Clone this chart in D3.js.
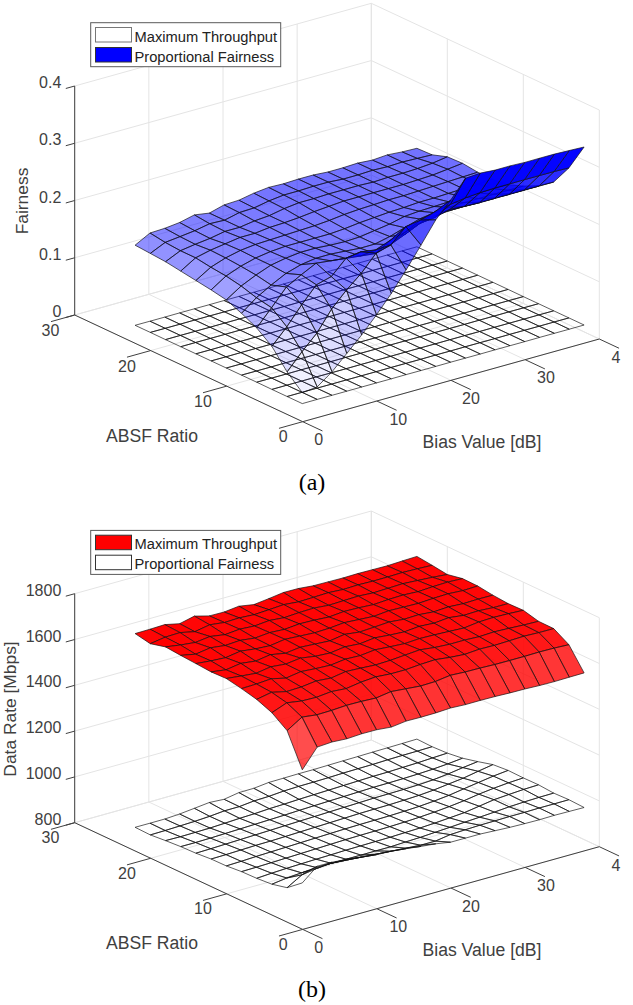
<!DOCTYPE html>
<html>
<head>
<meta charset="utf-8">
<title>Fairness and data rate surfaces</title>
<script src="https://cdn.jsdelivr.net/npm/d3@7"></script>
<style>
  html, body { margin: 0; padding: 0; background: #fff; }
  svg { display: block; }
  text { font-family: "Liberation Sans", Arial, sans-serif; fill: #404040; }
</style>
</head>
<body>
<svg id="figure" width="633" height="1005"></svg>
<script>
// grid of the simulation, one row per ABSF ratio, one column per bias value
var bias_values = [2, 4, 6, 8, 10, 12, 14, 16, 18, 20, 22, 24, 26, 28, 30, 32, 34, 36, 38, 40];
var absf_values = [2, 4, 6, 8, 10, 12, 14, 16, 18, 20, 22, 24];

var fairness_ticks = [0, 0.1, 0.2, 0.3, 0.4];
var rate_ticks = [800, 1000, 1200, 1400, 1600, 1800];
var bias_ticks = [0, 10, 20, 30, 40];
var absf_ticks = [0, 10, 20, 30];
// the last bias label is cut by the edge of the page, only its first digit shows
var bias_tick_labels = ['0', '10', '20', '30', '4'];

var fairness_pf = [
  [.031,.034,.053,.078,.103,.131,.161,.195,.231,.268,.295,.326,.328,.326,.326,.325,.325,.325,.324,.323],
  [.055,.083,.108,.143,.169,.191,.219,.226,.251,.255,.263,.268,.272,.274,.275,.275,.275,.275,.275,.274],
  [.087,.114,.145,.173,.180,.205,.209,.205,.215,.222,.230,.233,.240,.238,.237,.237,.237,.237,.237,.237],
  [.107,.135,.164,.178,.191,.188,.185,.182,.179,.187,.198,.210,.216,.218,.218,.218,.218,.218,.218,.218],
  [.120,.140,.155,.168,.176,.180,.180,.178,.176,.176,.182,.190,.198,.202,.204,.205,.205,.205,.205,.205],
  [.131,.148,.160,.170,.175,.178,.178,.176,.175,.176,.180,.184,.190,.192,.193,.194,.195,.195,.195,.195],
  [.136,.153,.163,.170,.174,.176,.176,.176,.176,.178,.181,.183,.185,.186,.188,.188,.189,.190,.191,.192],
  [.140,.156,.165,.171,.174,.175,.176,.177,.178,.180,.183,.185,.186,.187,.187,.188,.189,.190,.191,.192],
  [.144,.160,.166,.170,.174,.174,.177,.178,.180,.183,.185,.187,.187,.187,.187,.187,.188,.189,.192,.195],
  [.148,.160,.164,.167,.172,.172,.176,.178,.183,.186,.186,.187,.187,.187,.186,.187,.187,.188,.190,.194],
  [.150,.162,.165,.168,.173,.172,.178,.179,.184,.187,.187,.188,.188,.186,.186,.187,.186,.187,.186,.185],
  [.152,.166,.167,.170,.176,.172,.179,.180,.185,.188,.187,.188,.188,.186,.186,.187,.185,.187,.185,.184]
];

var fairness_mt = [
  [.012,.012,.012,.012,.012,.012,.012,.012,.012,.012,.012,.012,.012,.012,.012,.012,.012,.012,.012,.012],
  [.012,.012,.012,.012,.012,.012,.012,.012,.012,.012,.012,.012,.012,.012,.012,.012,.012,.012,.012,.012],
  [.012,.012,.012,.012,.012,.012,.012,.012,.012,.012,.012,.012,.012,.012,.012,.012,.012,.012,.012,.012],
  [.012,.012,.012,.012,.012,.012,.012,.012,.012,.012,.012,.012,.012,.012,.012,.012,.012,.012,.012,.012],
  [.012,.012,.012,.012,.012,.012,.012,.012,.012,.012,.012,.012,.012,.012,.012,.012,.012,.012,.012,.012],
  [.012,.012,.012,.012,.012,.012,.012,.012,.012,.012,.012,.012,.012,.012,.012,.012,.012,.012,.012,.012],
  [.012,.012,.012,.012,.012,.012,.012,.012,.012,.012,.012,.012,.012,.012,.012,.012,.012,.012,.012,.012],
  [.012,.012,.012,.012,.012,.012,.012,.012,.012,.012,.012,.012,.012,.012,.012,.012,.012,.012,.012,.012],
  [.012,.012,.012,.012,.012,.012,.012,.012,.012,.012,.012,.012,.012,.012,.012,.012,.012,.012,.012,.012],
  [.012,.012,.012,.012,.012,.012,.012,.012,.012,.012,.012,.012,.012,.012,.012,.012,.012,.012,.012,.012],
  [.012,.012,.012,.012,.012,.012,.012,.012,.012,.012,.012,.012,.012,.012,.012,.012,.012,.012,.012,.012],
  [.012,.012,.012,.012,.012,.012,.012,.012,.012,.012,.012,.012,.012,.012,.012,.012,.012,.012,.012,.012]
];

var rate_mt = [
  [1448,1529,1533,1529,1533,1532,1526,1534,1533,1534,1537,1534,1534,1533,1531,1530,1527,1526,1527,1528],
  [1588,1629,1621,1622,1626,1625,1622,1632,1626,1620,1622,1631,1627,1626,1624,1623,1623,1624,1623,1620],
  [1635,1660,1650,1648,1655,1650,1660,1665,1660,1660,1665,1668,1660,1655,1660,1658,1660,1662,1660,1659],
  [1662,1675,1660,1662,1670,1665,1675,1672,1668,1670,1675,1680,1672,1668,1668,1665,1668,1665,1662,1660],
  [1678,1680,1685,1670,1680,1675,1672,1680,1678,1685,1680,1676,1680,1678,1675,1672,1680,1682,1680,1677],
  [1691,1684,1678,1688,1682,1690,1680,1676,1685,1680,1688,1682,1678,1684,1680,1686,1678,1680,1676,1675],
  [1689,1680,1690,1682,1692,1680,1688,1684,1680,1690,1682,1686,1690,1684,1686,1680,1684,1680,1682,1681],
  [1694,1688,1684,1694,1686,1682,1692,1688,1684,1686,1692,1688,1684,1690,1688,1686,1690,1692,1688,1690],
  [1699,1686,1696,1688,1692,1684,1690,1686,1692,1690,1686,1692,1690,1686,1690,1692,1688,1692,1694,1691],
  [1705,1695,1688,1696,1686,1692,1688,1694,1688,1692,1694,1688,1690,1692,1688,1690,1692,1688,1684,1678],
  [1688,1698,1700,1686,1698,1690,1692,1688,1692,1696,1690,1692,1694,1690,1692,1690,1690,1692,1690,1687],
  [1701,1702,1704,1690,1705,1688,1687,1694,1683,1691,1700,1699,1693,1692,1691,1692,1691,1690,1693,1695]
];

var rate_pf = [
  [954,1009,1008,1002,995,987,984,977,969,962,951,951,951,947,944,942,941,942,941,940],
  [902,940,950,955,950,945,940,935,930,925,925,935,938,940,941,942,942,943,943,943],
  [886,895,900,905,905,905,905,905,905,908,910,914,918,922,926,930,935,938,940,941],
  [881,885,888,890,892,893,895,896,897,898,900,902,905,910,915,925,935,940,944,946],
  [879,880,882,884,886,888,890,892,893,894,895,897,900,904,910,918,928,936,942,945],
  [873,875,878,880,882,884,886,888,890,891,892,893,895,898,903,910,920,930,940,947],
  [872,873,875,877,878,880,882,884,886,888,890,891,892,894,897,902,910,918,930,941],
  [866,868,870,872,874,876,878,880,882,884,886,888,890,891,892,894,898,905,915,923],
  [864,864,865,867,869,871,873,875,878,880,882,884,886,888,889,890,892,895,900,907],
  [859,858,859,860,863,866,868,872,874,877,879,881,883,885,887,888,890,892,895,898],
  [853,854,856,858,862,868,868,875,877,882,884,885,886,888,889,890,892,893,894,895],
  [855,855,855,859,866,873,869,880,881,888,889,890,890,891,892,893,894,895,896,897]
];

var svg = d3.select('#figure');

// the plot box is an oblique projection: each data axis gets its own pair of
// pixel scales, and a point lands at the sum of the three offsets
var bias_x = d3.scaleLinear().domain([0, 40]).range([0, 296.6]);
var bias_y = d3.scaleLinear().domain([0, 40]).range([0, -82.7]);
var absf_x = d3.scaleLinear().domain([0, 30]).range([0, -228]);
var absf_y = d3.scaleLinear().domain([0, 30]).range([0, -106.7]);
var origin_x = 302.7;

function draw_panel(panel) {
  var g = svg.append('g').attr('transform', 'translate(' + origin_x + ',' + panel.origin_y + ')');
  var z = d3.scaleLinear().domain(panel.z_domain).range([0, -229]);
  var zlo = panel.z_domain[0];
  var zmax = panel.z_domain[1];

  function px(a, b) { return bias_x(a) + absf_x(b); }
  function py(a, b, v) { return bias_y(a) + absf_y(b) + (v === undefined ? 0 : z(v)); }

  // walls and floor
  var grid = g.append('g').attr('stroke', '#e4e4e4').attr('stroke-width', 1);
  function grid_line(a1, b1, v1, a2, b2, v2) {
    grid.append('line')
      .attr('x1', px(a1, b1)).attr('y1', py(a1, b1, v1))
      .attr('x2', px(a2, b2)).attr('y2', py(a2, b2, v2));
  }
  panel.z_ticks.forEach(function(v) {
    grid_line(0, 30, v, 40, 30, v);
    grid_line(40, 30, v, 40, 0, v);
  });
  bias_ticks.forEach(function(a) {
    grid_line(a, 30, zlo, a, 30, zmax);
    grid_line(a, 0, zlo, a, 30, zlo);
  });
  absf_ticks.forEach(function(b) {
    grid_line(40, b, zlo, 40, b, zmax);
    grid_line(0, b, zlo, 40, b, zlo);
  });

  // surfaces, lower one first
  draw_surface(panel.lower, '#ffffff');
  draw_surface(panel.upper, panel.color);

  function draw_surface(rows, color) {
    var quads = [];
    for (var j = 0; j < absf_values.length - 1; j++) {
      for (var i = 0; i < bias_values.length - 1; i++) {
        quads.push({i: i, j: j, depth: bias_values[i] + absf_values[j]});
      }
    }
    // far cells first
    quads.sort(function(p, q) { return q.depth - p.depth; });
    var alpha = d3.scaleLinear().domain(panel.alpha_domain).range([0, 1]).clamp(true);
    g.append('g').selectAll('path').data(quads).enter().append('path')
      .attr('d', function(q) {
        var corners = [[q.i, q.j], [q.i + 1, q.j], [q.i + 1, q.j + 1], [q.i, q.j + 1]];
        return 'M' + corners.map(function(c) {
          var a = bias_values[c[0]], b = absf_values[c[1]];
          return px(a, b).toFixed(1) + ',' + py(a, b, rows[c[1]][c[0]]).toFixed(1);
        }).join('L') + 'Z';
      })
      .attr('fill', color)
      .attr('fill-opacity', function(q) { return alpha(rows[q.j][q.i]); })
      .attr('stroke', '#111')
      .attr('stroke-width', 0.8)
      .attr('stroke-opacity', 0.85)
      .attr('stroke-linejoin', 'round');
  }

  // axes
  var axes = g.append('g').attr('stroke', '#404040').attr('stroke-width', 1);
  function axis_line(x1, y1, x2, y2) {
    axes.append('line').attr('x1', x1).attr('y1', y1).attr('x2', x2).attr('y2', y2);
  }
  axis_line(px(0, 0), py(0, 0), px(40, 0), py(40, 0));
  axis_line(px(0, 0), py(0, 0), px(0, 30), py(0, 30));
  axis_line(px(0, 30), py(0, 30, zlo), px(0, 30), py(0, 30, zmax));
  bias_ticks.forEach(function(a) {
    axis_line(px(a, 0), py(a, 0), px(a, -2.6), py(a, -2.6));
  });
  absf_ticks.forEach(function(b) {
    axis_line(px(0, b), py(0, b), px(-3.2, b), py(-3.2, b));
  });
  panel.z_ticks.forEach(function(v) {
    axis_line(px(0, 30), py(0, 30, v), px(-1.2, 30), py(-1.2, 30, v));
  });

  // tick labels
  function label(x, y, text, anchor, size) {
    return svg.append('text').attr('x', x).attr('y', y)
      .attr('text-anchor', anchor || 'middle')
      .attr('dominant-baseline', 'central')
      .attr('font-size', size || 16)
      .text(text);
  }
  var dy = panel.label_dy;
  panel.z_ticks.forEach(function(v) {
    label(61.3, panel.origin_y + py(0, 30, v) - 3.5, panel.z_format(v), 'end');
  });
  [[50.4, 330], [127, 366], [203, 401], [283.3, 436.7]].forEach(function(p, i) {
    label(p[0], p[1] + dy, absf_ticks[3 - i]);
  });
  [[318.8, 439.3], [398.3, 419], [471, 398.3], [546, 377.7], [616, 357.3]].forEach(function(p, i) {
    label(p[0], p[1] + dy, bias_tick_labels[i]);
  });

  label(152, 435.7 + dy, 'ABSF Ratio', 'middle', 17.6);
  label(482, 442.3 + dy, 'Bias Value [dB]', 'middle', 17.6);
  label(0, 0, panel.z_label, 'middle', 17.4)
    .attr('x', null).attr('y', null)
    .attr('transform', 'translate(' + panel.z_label_x + ',' + panel.z_label_y + ') rotate(-90)');

  svg.append('text').attr('x', 312).attr('y', panel.caption_y)
    .attr('text-anchor', 'middle').attr('dominant-baseline', 'central')
    .style('font-family', '"Liberation Serif", serif').style('fill', '#000')
    .attr('font-size', 24).text(panel.caption);

  // legend
  var legend = svg.append('g').attr('transform', 'translate(0,' + dy + ')');
  legend.append('rect').attr('x', 90.7).attr('y', 22.7).attr('width', 190).attr('height', 44)
    .attr('fill', '#fff').attr('stroke', '#5a5a5a');
  panel.legend.forEach(function(item, i) {
    legend.append('rect').attr('x', 95.5).attr('y', 27.5 + 20 * i).attr('width', 36).attr('height', 14.5)
      .attr('fill', item.fill).attr('stroke', item.stroke);
    legend.append('text').attr('x', 134.5).attr('y', 36.7 + 20 * i)
      .attr('dominant-baseline', 'central').attr('font-size', 14.7)
      .style('fill', '#222').text(item.name);
  });
}

draw_panel({
  origin_y: 421.7, label_dy: 0,
  z_domain: [0, 0.4], z_ticks: fairness_ticks,
  z_format: function(v) { return v === 0 ? '0' : d3.format('.1f')(v); },
  alpha_domain: [0.012, 0.33],
  lower: fairness_mt, upper: fairness_pf, color: '#0000ff',
  z_label: 'Fairness', z_label_x: 22, z_label_y: 201,
  caption: '(a)', caption_y: 481.7,
  legend: [
    {name: 'Maximum Throughput', fill: '#fff', stroke: '#777'},
    {name: 'Proportional Fairness', fill: '#0000ff', stroke: '#333'}
  ]
});

draw_panel({
  origin_y: 929.4, label_dy: 507.7,
  z_domain: [800, 1800], z_ticks: rate_ticks,
  z_format: function(v) { return v; },
  alpha_domain: [855, 1705],
  lower: rate_pf, upper: rate_mt, color: '#ff0000',
  z_label: 'Data Rate [Mbps]', z_label_x: 10, z_label_y: 709,
  caption: '(b)', caption_y: 989.3,
  legend: [
    {name: 'Maximum Throughput', fill: '#ff0000', stroke: '#333'},
    {name: 'Proportional Fairness', fill: '#fff', stroke: '#333'}
  ]
});
</script>
</body>
</html>
